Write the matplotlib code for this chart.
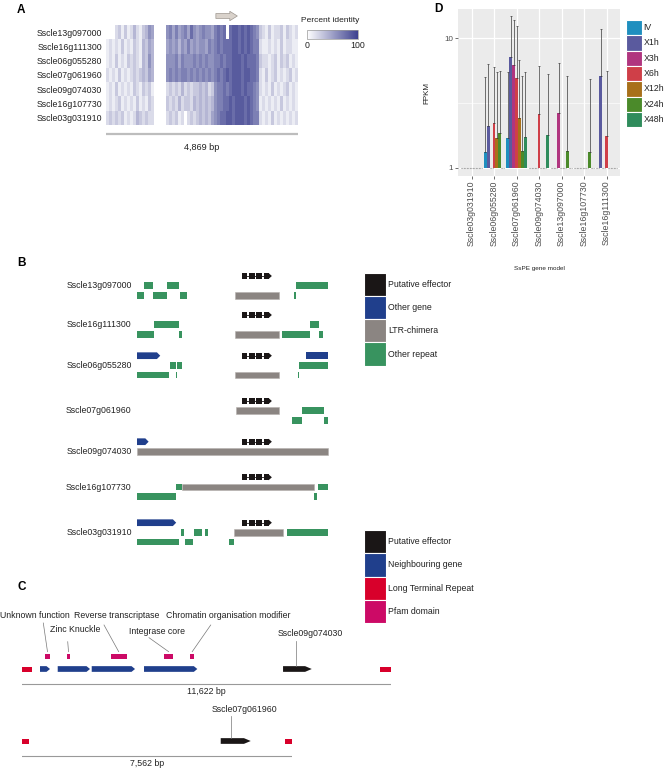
import numpy as np
import matplotlib

matplotlib.use("Agg")
import matplotlib.pyplot as plt
from matplotlib.cm import ScalarMappable
from matplotlib.colors import LinearSegmentedColormap, Normalize
from matplotlib.patches import Polygon

plt.rcParams["font.family"] = ["Liberation Sans", "DejaVu Sans"]
FS = 6.3

# ---------------- data ----------------
genes = [
    "Sscle13g097000",
    "Sscle16g111300",
    "Sscle06g055280",
    "Sscle07g061960",
    "Sscle09g074030",
    "Sscle16g107730",
    "Sscle03g031910",
]

# A: percent identity per alignment column, coded 0-9 ("-" = no alignment)
identity = [
    "---2313124213465" "----" "6757567586567665" "787808998989876" "3213122313212",
    "1212131213214354" "----" "5656465756566576" "787888998989877" "2112121312211",
    "1213121323214364" "----" "6667576667676766" "778788999898887" "3221231323121",
    "2121312123234354" "----" "6767677676767676" "787898999899887" "2131231212312",
    "1213121213213231" "----" "2323242323343423" "677878999898876" "2121312123121",
    "1212312121312132" "----" "3232423324343434" "677889899989876" "1212121312121",
    "2323231212432322" "----" "2323120232343435" "678899899989877" "2121312121212",
]
effector_cols = (35.2, 44.2)
alignment_len = "4,869 bp"

# B: features per locus (lane, start, end, kind), window units
b_features = [
    [(1, 22, 47, "rep"), (1, 90, 127, "rep"), (1, 153, 155, "rep"), (1, 480, 575, "rep"),
     (2, 0, 22, "rep"), (2, 47, 90, "rep"), (2, 128, 152, "rep"), (2, 295, 428, "ltr"),
     (2, 472, 478, "rep")],
    [(1, 50, 125, "rep"), (1, 522, 547, "rep"),
     (2, 0, 50, "rep"), (2, 125, 135, "rep"), (2, 295, 428, "ltr"), (2, 437, 522, "rep"),
     (2, 547, 560, "rep")],
    [(0, 0, 70, "gene"), (0, 508, 575, "generect"),
     (1, 98, 118, "rep"), (1, 120, 136, "rep"), (1, 488, 575, "rep"),
     (2, 0, 84, "rep"), (2, 85, 97, "rep"), (2, 118, 121, "rep"), (2, 295, 426, "ltr"),
     (2, 485, 488, "rep")],
    [(1, 298, 428, "ltr"), (1, 498, 562, "rep"),
     (2, 468, 498, "rep"), (2, 562, 576, "rep")],
    [(0, 0, 35, "gene"), (1, 0, 575, "ltr")],
    [(1, 118, 136, "rep"), (1, 136, 533, "ltr"), (1, 544, 575, "rep"),
     (2, 0, 117, "rep"), (2, 534, 543, "rep")],
    [(0, 0, 118, "gene"),
     (1, 133, 142, "rep"), (1, 171, 196, "rep"), (1, 206, 215, "rep"), (1, 293, 440, "ltr"),
     (1, 452, 577, "rep"),
     (2, 0, 127, "rep"), (2, 145, 170, "rep"), (2, 276, 293, "rep")],
]
effector_exons = [(315, 332), (336, 356), (359, 377), (381, 396)]
effector_tip = (396, 406)

legend_b1 = ["Putative effector", "Other gene", "LTR-chimera", "Other repeat"]
legend_b2 = ["Putative effector", "Neighbouring gene", "Long Terminal Repeat", "Pfam domain"]

# C: locus 1 (bp)
c1_len = 11622
c1_ltr = [(0, 305), (11277, 11622)]
c1_genes = [(567, 882), (1125, 2142), (2196, 3560), (3843, 5522)]
c1_effector = (8222, 9126)
c1_pfam = [(715, 891), (1427, 1503), (2794, 3298), (4473, 4766), (5292, 5428)]
c1_pfam_names = ["Unknown function", "Zinc Knuckle", "Reverse transcriptase",
                 "Integrase core", "Chromatin organisation modifier"]
# C: locus 2 (bp)
c2_len = 7562
c2_ltr = [(0, 196), (7374, 7562)]
c2_effector = (5572, 6413)

# D: FPKM per time point (0 = not expressed)
d_genes = ["Sscle03g031910", "Sscle06g055280", "Sscle07g061960", "Sscle09g074030",
           "Sscle13g097000", "Sscle16g107730", "Sscle16g111300"]
conditions = ["IV", "X1h", "X3h", "X6h", "X12h", "X24h", "X48h"]
fpkm_iv = [0, 1.32, 1.71, 0, 0, 0, 0]
fpkm_1h = [0, 2.10, 7.20, 0, 0, 0, 5.14]
fpkm_3h = [0, 0, 6.22, 0, 2.66, 0, 0]
fpkm_6h = [0, 2.23, 4.91, 2.60, 0, 0, 1.76]
fpkm_12h = [0, 1.71, 2.43, 0, 0, 0, 0]
fpkm_24h = [0, 1.84, 1.35, 0, 1.35, 1.32, 0]
fpkm_48h = [0, 0, 1.73, 1.79, 0, 0, 0]
upper_iv = [0, 5.0, 5.52, 0, 0, 0, 0]
upper_1h = [0, 6.33, 14.96, 0, 0, 0, 11.8]
upper_3h = [0, 0, 13.8, 0, 6.4, 0, 0]
upper_6h = [0, 5.97, 12.4, 6.1, 0, 0, 5.6]
upper_12h = [0, 5.46, 6.8, 0, 0, 0, 0]
upper_24h = [0, 5.59, 5.1, 0, 5.1, 4.85, 0]
upper_48h = [0, 0, 5.46, 5.3, 0, 0, 0]

# ---------------- styles ----------------
COL_EFF = "#1a1616"
COL_GENE = "#203f8c"
COL_LTR = "#8b8582"
COL_REP = "#38935f"
COL_LTRC = "#d8002b"
COL_PFAM = "#cc0a66"
cond_colors = ["#1f8fbf", "#5a5a9e", "#b0357f", "#cf3f48", "#a8701a", "#4b8a2a", "#2f8c5c"]

W, H = 668, 769
fig = plt.figure(figsize=(W / 100, H / 100), dpi=100)


def px_axes(x0, y0, x1, y1):
    ax = fig.add_axes([x0 / W, 1 - y1 / H, (x1 - x0) / W, (y1 - y0) / H])
    return ax


def px_text(x, y, s, **kw):
    fig.text(x / W, 1 - y / H, s, **kw)


def arrow_poly(ax, s, e, y, h, tip, color):
    tip = min(tip, e - s)
    pts = [(s, y - h / 2), (e - tip, y - h / 2), (e, y), (e - tip, y + h / 2), (s, y + h / 2)]
    ax.add_patch(Polygon(pts, closed=True, fc=color, ec="none"))


def bare(ax):
    for sp in ax.spines.values():
        sp.set_visible(False)
    ax.set_xticks([])
    ax.set_yticks([])
    ax.patch.set_alpha(0)


def box_legend(ax, labels, colors):
    n = len(labels)
    ax.barh(range(n), [1] * n, height=1, left=0, color=colors, edgecolor="white", linewidth=0.8)
    ax.set_xlim(0, 1)
    ax.set_ylim(n - 0.5, -0.5)
    bare(ax)
    for i, lab in enumerate(labels):
        ax.text(1.08, i, lab, ha="left", va="center", fontsize=FS, color="#222222", clip_on=False)


# ---------------- panel A ----------------
cmap = LinearSegmentedColormap.from_list("pid", ["#ffffff", "#3d418f"])
cmap.set_bad("white")
mat = np.array([[np.nan if c == "-" else int(c) for c in row] for row in identity], dtype=float)
axA = px_axes(106, 25, 298, 125)
axA.imshow(np.ma.masked_invalid(mat), aspect="auto", cmap=cmap, vmin=0, vmax=10.5,
           interpolation="nearest")
for sp in axA.spines.values():
    sp.set_visible(False)
axA.set_xticks([])
axA.set_yticks(range(len(genes)))
axA.set_yticklabels(genes, fontsize=FS, color="#222222")
axA.tick_params(axis="y", length=0, pad=3)
axA.annotate("", xy=(effector_cols[1], 1.09), xytext=(effector_cols[0], 1.09),
             xycoords=("data", "axes fraction"), textcoords=("data", "axes fraction"),
             arrowprops=dict(arrowstyle="simple,head_length=0.6,head_width=0.75,tail_width=0.4",
                             fc="#d9d2cb", ec="#9c958f", lw=0.5, mutation_scale=9))
axA.plot([0, 1], [-0.09, -0.09], transform=axA.transAxes, color="#bdbdbd", lw=1.6,
         clip_on=False, solid_capstyle="butt")
axA.text(0.5, -0.23, alignment_len, transform=axA.transAxes, ha="center", va="center",
         fontsize=FS + 0.3, color="#222222")
px_text(17, 10, "A", fontsize=8.5, fontweight="bold", va="center")

cax = px_axes(307, 30, 358, 39)
cb = fig.colorbar(ScalarMappable(norm=Normalize(0, 100), cmap=cmap), cax=cax,
                  orientation="horizontal", ticks=[0, 100])
cb.outline.set_edgecolor("#999999")
cb.outline.set_linewidth(0.5)
cax.tick_params(length=0, pad=1.5, labelsize=FS, colors="#222222")
px_text(301, 20, "Percent identity", fontsize=FS - 0.3, va="center", color="#222222")

# ---------------- panel B ----------------
b_row_top = [276, 315, 355.7, 401, 441.7, 477.3, 522.7]
lane_gap = 9.7
bar_h = 6.7
axB = px_axes(137, 262, 328, 560)
axB.set_xlim(0, 575)
axB.set_ylim(560, 262)
bare(axB)
kind_col = {"rep": COL_REP, "ltr": COL_LTR, "generect": COL_GENE}
for name, top, feats in zip(genes, b_row_top, b_features):
    # effector on lane 0
    axB.plot([effector_exons[0][0], effector_tip[0]], [top, top], color=COL_EFF, lw=0.6)
    axB.broken_barh([(s, e - s) for s, e in effector_exons], (top - 3, 6), facecolors=COL_EFF)
    axB.add_patch(Polygon([(effector_tip[0], top - 3), (effector_tip[1], top),
                           (effector_tip[0], top + 3)], closed=True, fc=COL_EFF, ec="none"))
    for lane, s, e, kind in feats:
        y = top + lane * lane_gap
        if kind == "gene":
            arrow_poly(axB, s, e, y, bar_h, 10, COL_GENE)
        else:
            ec = "#b5b0ad" if kind == "ltr" else "none"
            axB.broken_barh([(s, e - s)], (y - bar_h / 2, bar_h), facecolors=kind_col[kind],
                            edgecolors=ec, linewidth=0.4)
    axB.text(-16, top + lane_gap, name, ha="right", va="center", fontsize=FS,
             color="#222222", clip_on=False)
px_text(17, 263, "B", fontsize=8.5, fontweight="bold", va="center")

box_legend(px_axes(364, 272.7, 386, 365.7), legend_b1, [COL_EFF, COL_GENE, COL_LTR, COL_REP])
box_legend(px_axes(364, 530, 386, 623), legend_b2, [COL_EFF, COL_GENE, COL_LTRC, COL_PFAM])

# ---------------- panel C ----------------
px_text(17, 587, "C", fontsize=8.5, fontweight="bold", va="center")
axC1 = px_axes(22, 600, 391, 700)
axC1.set_xlim(0, c1_len)
axC1.set_ylim(700, 600)
bare(axC1)
feat_y, pfam_y = 669, 656.7
axC1.broken_barh([(s, e - s) for s, e in c1_ltr], (feat_y - 2.5, 5), facecolors=COL_LTRC)
for s, e in c1_genes:
    arrow_poly(axC1, s, e, feat_y, 5.7, 110, COL_GENE)
arrow_poly(axC1, c1_effector[0], c1_effector[1], feat_y, 5.7, 210, COL_EFF)
axC1.broken_barh([(s, e - s) for s, e in c1_pfam], (pfam_y - 2.5, 5), facecolors=COL_PFAM)
axC1.plot([0, c1_len], [684, 684], color="#999999", lw=0.8)
axC1.text(c1_len / 2, 692, f"{c1_len:,} bp", ha="center", va="center", fontsize=FS,
          color="#222222")
# label layout: (x in bp, y in px, line start x, line start y)
pfam_label_pos = [(410, 615, 671, 623), (1670, 630, 1440, 641.7), (2993, 615, 2583, 625),
                  (4253, 631, 4000, 637.7), (6489, 616, 5944, 625)]
for (s, e), name, (lx, ly, sx, sy) in zip(c1_pfam, c1_pfam_names, pfam_label_pos):
    axC1.text(lx, ly, name, ha="center", va="center", fontsize=FS, color="#222222",
              clip_on=False)
    axC1.plot([sx, (s + e) / 2], [sy, pfam_y - 5], color="#777777", lw=0.5)
axC1.text(9072, 633, "Sscle09g074030", ha="center", va="center", fontsize=FS,
          color="#222222", clip_on=False)
axC1.plot([8631, 8631], [640.7, feat_y - 3.5], color="#777777", lw=0.5)

axC2 = px_axes(22, 700, 291.7, 769)
axC2.set_xlim(0, c2_len)
axC2.set_ylim(769, 700)
bare(axC2)
axC2.broken_barh([(s, e - s) for s, e in c2_ltr], (741 - 2.5, 5), facecolors=COL_LTRC)
arrow_poly(axC2, c2_effector[0], c2_effector[1], 741, 5.7, 190, COL_EFF)
axC2.plot([0, c2_len], [756, 756], color="#999999", lw=0.8)
axC2.text(c2_len * 0.465, 763, f"{c2_len:,} bp", ha="center", va="center", fontsize=FS,
          color="#222222")
axC2.text(6225, 709, "Sscle07g061960", ha="center", va="center", fontsize=FS,
          color="#222222", clip_on=False)
axC2.plot([5869, 5869], [716, 737.5], color="#777777", lw=0.5)

# ---------------- panel D ----------------
axD = px_axes(458, 9, 620, 176)
axD.set_facecolor("#ebebeb")
axD.set_yscale("log")
axD.set_ylim(0.863, 16.8)
axD.set_xlim(-0.6, len(d_genes) - 0.4)
for sp in axD.spines.values():
    sp.set_visible(False)
axD.set_axisbelow(True)
axD.set_yticks([1, 10])
axD.set_yticklabels(["1", "10"])
axD.set_yticks([10 ** 0.5], minor=True)
axD.yaxis.set_minor_formatter(matplotlib.ticker.NullFormatter())
axD.grid(True, which="major", color="white", lw=0.9)
axD.grid(True, which="minor", axis="y", color="white", lw=0.45)
xpos = np.arange(len(d_genes))
axD.set_xticks(xpos)
axD.set_xticklabels(d_genes, rotation=90, fontsize=FS, color="#4d4d4d")
axD.tick_params(axis="both", which="major", length=2, width=0.5, color="#333333",
                labelsize=FS - 0.5, labelcolor="#4d4d4d", pad=1.5)
axD.tick_params(axis="x", labelsize=FS)
axD.tick_params(axis="y", which="minor", length=0)
axD.set_ylabel("FPKM", fontsize=5.8, color="#222222", labelpad=10)

values = [fpkm_iv, fpkm_1h, fpkm_3h, fpkm_6h, fpkm_12h, fpkm_24h, fpkm_48h]
uppers = [upper_iv, upper_1h, upper_3h, upper_6h, upper_12h, upper_24h, upper_48h]
bw = 0.9 / len(conditions)
for i, (vals, ups, col) in enumerate(zip(values, uppers, cond_colors)):
    x = xpos + (i - 3) * bw
    v = np.array(vals, dtype=float)
    u = np.array(ups, dtype=float)
    has = v > 1
    axD.bar(x[has], v[has] - 1, bottom=1, width=bw, color=col, edgecolor="none", zorder=2)
    axD.hlines(np.ones((~has).sum()), x[~has] - bw / 2, x[~has] + bw / 2, colors="#8c8c8c",
               linestyles=(0, (1, 1)), lw=0.8, zorder=2)
    axD.errorbar(x[has], v[has], yerr=[np.zeros(has.sum()), u[has] - v[has]], fmt="none",
                 ecolor="#3a3a3a", elinewidth=0.5, capsize=0.9, capthick=0.5, zorder=3)
px_text(539, 269, "SsPE gene model", fontsize=4.6, ha="center", va="center", color="#222222")
px_text(434, 9, "D", fontsize=8.5, fontweight="bold", va="center")

box_legend(px_axes(625.7, 20, 642.3, 127.3), conditions, cond_colors)

fig.savefig("out.png", dpi=100)
